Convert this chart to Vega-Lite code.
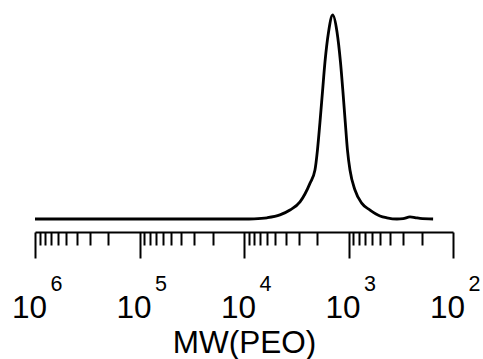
{
  "$schema": "https://vega.github.io/schema/vega-lite/v6.json",
  "width": 418,
  "height": 222,
  "autosize": {"type": "none"},
  "padding": {"left": 35, "top": 10, "right": 30, "bottom": 127},
  "background": "white",
  "config": {
    "view": {"stroke": null},
    "font": "Liberation Sans",
    "axis": {"grid": false}
  },
  "data": {
    "values": [
      {"mw": 1000000, "signal": 0},
      {"mw": 300000, "signal": 0},
      {"mw": 100000, "signal": 0},
      {"mw": 30000, "signal": 0},
      {"mw": 10000, "signal": 0},
      {"mw": 8000, "signal": 0.001},
      {"mw": 6026, "signal": 0.006},
      {"mw": 4529, "signal": 0.020},
      {"mw": 3631, "signal": 0.044},
      {"mw": 2911, "signal": 0.084},
      {"mw": 2333, "signal": 0.176},
      {"mw": 2094, "signal": 0.240},
      {"mw": 1982, "signal": 0.338},
      {"mw": 1875, "signal": 0.475},
      {"mw": 1774, "signal": 0.623},
      {"mw": 1679, "signal": 0.770},
      {"mw": 1552, "signal": 0.917},
      {"mw": 1416, "signal": 1.0},
      {"mw": 1288, "signal": 0.917},
      {"mw": 1194, "signal": 0.770},
      {"mw": 1130, "signal": 0.623},
      {"mw": 1074, "signal": 0.475},
      {"mw": 1023, "signal": 0.338},
      {"mw": 968, "signal": 0.240},
      {"mw": 867, "signal": 0.142},
      {"mw": 748, "signal": 0.078},
      {"mw": 622, "signal": 0.044},
      {"mw": 500, "signal": 0.015},
      {"mw": 429, "signal": 0.006},
      {"mw": 344, "signal": 0},
      {"mw": 300, "signal": 0.002},
      {"mw": 258, "signal": 0.010},
      {"mw": 231, "signal": 0.007},
      {"mw": 207, "signal": 0.003},
      {"mw": 155, "signal": 0}
    ]
  },
  "resolve": {"axis": {"x": "independent"}},
  "layer": [
    {
      "mark": {"type": "line", "color": "black", "strokeWidth": 2.8, "interpolate": "monotone"},
      "encoding": {
        "x": {
          "field": "mw", "type": "quantitative",
          "scale": {"type": "log", "domain": [100, 1000000], "reverse": true, "nice": false},
          "axis": {
            "orient": "bottom",
            "values": [100, 1000, 10000, 100000, 1000000],
            "tickSize": 26, "tickWidth": 2, "tickColor": "black",
            "domain": true, "domainColor": "black", "domainWidth": 2,
            "labelExpr": "'10'",
            "labelFont": "Liberation Sans", "labelFontSize": 31.5, "labelColor": "black",
            "labelAlign": "center", "labelBaseline": "alphabetic", "labelOffset": -6,
            "labelPadding": 59, "labelFlush": false, "labelOverlap": false, "labelBound": false,
            "title": "MW(PEO)", "titleFont": "Liberation Sans", "titleFontSize": 31.5,
            "titleFontWeight": "normal", "titleColor": "black",
            "titleBaseline": "alphabetic", "titleAlign": "center",
            "titleX": 209, "titleY": 120
          }
        },
        "y": {
          "field": "signal", "type": "quantitative",
          "scale": {"domain": [-0.0637, 1.0245], "zero": false, "nice": false},
          "axis": null
        }
      }
    },
    {
      "mark": {"type": "point", "opacity": 0},
      "encoding": {
        "x": {
          "field": "mw", "type": "quantitative",
          "scale": {"type": "log", "domain": [100, 1000000], "reverse": true, "nice": false},
          "axis": {
            "orient": "bottom",
            "values": [200, 300, 400, 500, 600, 700, 800, 900,
                       2000, 3000, 4000, 5000, 6000, 7000, 8000, 9000,
                       20000, 30000, 40000, 50000, 60000, 70000, 80000, 90000,
                       200000, 300000, 400000, 500000, 600000, 700000, 800000, 900000],
            "tickSize": 13, "tickWidth": 2, "tickColor": "black",
            "domain": false, "labels": false, "title": null
          }
        },
        "y": {"field": "signal", "type": "quantitative"}
      }
    },
    {
      "mark": {"type": "point", "opacity": 0},
      "encoding": {
        "x": {
          "field": "mw", "type": "quantitative",
          "scale": {"type": "log", "domain": [100, 1000000], "reverse": true, "nice": false},
          "axis": {
            "orient": "bottom",
            "values": [100, 1000, 10000, 100000, 1000000],
            "ticks": false, "tickSize": 0, "domain": false,
            "labelExpr": "format(log(datum.value)/LN10, '.0f')",
            "labelFont": "Liberation Sans", "labelFontSize": 21.5, "labelColor": "black",
            "labelAlign": "center", "labelBaseline": "alphabetic", "labelOffset": 21,
            "labelPadding": 58, "labelFlush": false, "labelOverlap": false, "labelBound": false,
            "title": null
          }
        },
        "y": {"field": "signal", "type": "quantitative"}
      }
    }
  ]
}
